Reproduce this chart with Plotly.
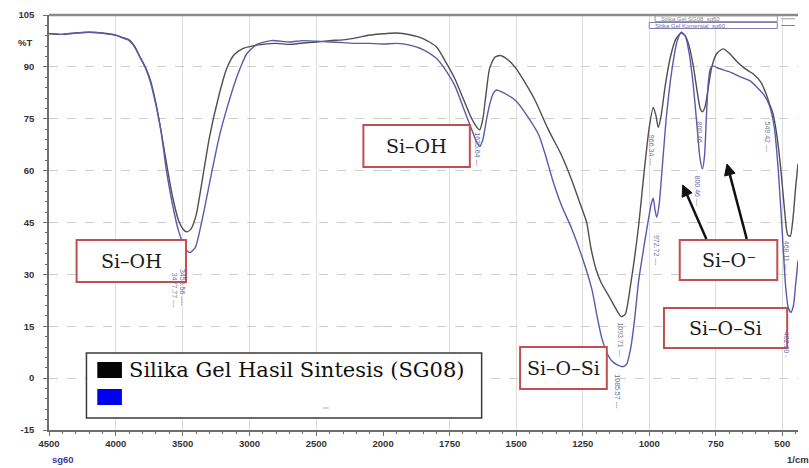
import math
import plotly.graph_objects as go

# ---------------- data ----------------
sg08_wn = [4500, 4400, 4300, 4200, 4100, 4000, 3950, 3900, 3860, 3820, 3780, 3740, 3700, 3680, 3640,
           3600, 3570, 3530, 3495, 3470, 3440, 3400, 3350, 3300, 3230, 3170, 3115, 3050, 2980, 2900,
           2800, 2700, 2600, 2500, 2400, 2300, 2200, 2100, 2000, 1950, 1900, 1850, 1800, 1760, 1730,
           1700, 1670, 1650, 1637, 1625, 1612, 1600, 1580, 1560, 1530, 1500, 1475, 1430, 1380, 1330,
           1290, 1260, 1235, 1220, 1200, 1180, 1150, 1125, 1105, 1090, 1070, 1040, 1020, 1000, 985,
           975, 966, 955, 940, 920, 900, 880, 865, 850, 835, 820, 808, 800, 790, 778, 765, 745, 722,
           700, 670, 640, 610, 580, 560, 549, 535, 520, 505, 492, 480, 470, 460, 450, 441]
sg08_t = [99.6, 99.4, 99.8, 100.0, 99.8, 99.2, 98.5, 97.8, 96.0, 93.0, 90.0, 86.0, 79.5, 75.5, 66.5,
          57.5, 51.5, 45.5, 43.0, 42.3, 43.0, 47.0, 58.0, 69.5, 81.5, 89.5, 93.5, 95.3, 96.0, 96.5,
          96.8, 96.5, 96.9, 97.2, 97.6, 97.8, 98.4, 99.2, 99.6, 99.8, 99.3, 98.2, 95.8, 90.8, 86.5,
          81.0, 75.5, 72.8, 71.8, 75.0, 83.0, 89.5, 92.8, 93.3, 92.0, 89.5, 86.5, 80.5, 72.0, 64.5,
          57.0, 50.5, 45.0, 38.0, 31.5, 27.5, 23.5, 20.0, 17.8, 18.5, 27.0, 44.0, 59.0, 72.5, 78.3,
          76.0, 72.5, 76.0, 84.5, 93.0, 98.0, 99.8, 99.0, 96.0, 90.5, 83.0, 77.8, 77.0, 78.5, 84.0,
          90.0, 94.0, 95.2, 94.0, 91.5, 89.5, 88.0, 85.5, 82.0, 79.5, 76.5, 70.0, 60.0, 49.0, 41.5,
          41.0, 46.0, 55.0, 62.0]

ref_wn = [4500, 4400, 4300, 4200, 4100, 4000, 3950, 3900, 3860, 3820, 3780, 3740, 3700, 3660, 3625,
          3580, 3530, 3480, 3445, 3405, 3350, 3280, 3225, 3165, 3100, 3055, 3020, 2945, 2835, 2700,
          2600, 2500, 2400, 2300, 2200, 2100, 2000, 1950, 1900, 1850, 1800, 1760, 1730, 1700, 1670,
          1650, 1637, 1625, 1612, 1600, 1585, 1574, 1550, 1504, 1460, 1415, 1390, 1363, 1330, 1290,
          1250, 1215, 1195, 1178, 1160, 1141, 1120, 1100, 1085, 1070, 1055, 1040, 1020, 1005, 992,
          985, 978, 972, 963, 950, 935, 915, 895, 880, 865, 850, 835, 820, 810, 800, 792, 785, 778,
          770, 760, 740, 700, 660, 622, 600, 570, 549, 530, 515, 500, 488, 478, 468, 458, 450, 441]
ref_t = [99.7, 99.4, 99.8, 100.0, 99.7, 99.1, 98.4, 97.6, 95.8, 92.8, 89.8, 85.5, 79.0, 71.0, 61.0,
         51.0, 42.5, 37.5, 36.3, 37.8, 46.5, 60.0, 70.0, 78.5, 86.5, 91.0, 93.8, 96.5, 97.6, 97.2,
         97.6, 97.4, 97.2, 97.0, 96.8, 96.8, 96.6, 96.8, 96.3, 95.0, 92.5, 88.5, 84.5, 78.5, 72.5,
         68.5, 67.0, 69.0, 74.5, 79.0, 82.5, 83.3, 82.6, 80.4, 76.0, 70.3, 64.5, 57.3, 50.0, 43.0,
         34.5, 25.5, 17.5, 11.5, 7.5, 5.0, 3.8, 3.3, 4.0, 8.5, 17.0, 28.0, 38.0, 45.0, 50.5,
         52.0, 48.5, 46.5, 50.0, 62.0, 76.0, 89.0, 97.5, 100.0, 99.0, 94.0, 85.0, 72.5, 64.0, 60.5,
         64.5, 76.0, 85.5, 89.5, 90.3, 89.6, 88.6, 87.2, 86.0, 84.5, 82.0, 79.0, 72.5, 60.0, 42.0,
         27.0, 20.5, 19.0, 21.0, 27.0, 34.0]

x_hi_ticks = [4500, 4000, 3500, 3000, 2500, 2000]
x_lo_ticks = [1750, 1500, 1250, 1000, 750, 500]
y_ticks = [-15, 0, 15, 30, 45, 60, 75, 90, 105]

peak_labels = [("3477.77 ---", 177, 290, "#7a7a8a"), ("3456.56 ----", 185, 287, "#6a6aa8"),
               ("1635.64 ---", 484, 150, "#6a6aa8"), ("1093.71 ---", 629, 340, "#7a7a8a"),
               ("1085.57 ---", 626, 392, "#6a6aa8"), ("966.34 ---", 661, 150, "#7a7a8a"),
               ("972.72 ---", 665, 250, "#6a6aa8"), ("800.46 ---", 710, 137, "#7a7a8a"),
               ("800.46 ---", 708, 191, "#6a6aa8"), ("549.42 ---", 779, 137, "#7a7a8a"),
               ("468.11 ---", 797, 256, "#7a7a8a"), ("462.20 -", 798, 345, "#6a6aa8")]

# ---------------- geometry ----------------
W, H = 809, 468
L, R, T, B = 49, 0, 15, 38
PW, PH = W - L - R, H - T - B
BREAK = 2000
def px(x):
    return (x - L) / PW
def py(y):
    return (H - B - y) / PH
D = px(388)

BLACK = "#4f4f4f"
BLUE = "#5a5aaa"

fig = go.Figure()

def split(wn, t, hi):
    out_w, out_t = [], []
    for i, (w, v) in enumerate(zip(wn, t)):
        if hi:
            keep = w >= BREAK or (i > 0 and wn[i - 1] >= BREAK)
        else:
            keep = w <= BREAK or (i + 1 < len(wn) and wn[i + 1] <= BREAK)
        if keep:
            out_w.append(w)
            out_t.append(v)
    return out_w, out_t

for wn, t, col in [(sg08_wn, sg08_t, BLACK), (ref_wn, ref_t, BLUE)]:
    for hi, xa in [(True, "x"), (False, "x2")]:
        w, v = split(wn, t, hi)
        fig.add_trace(go.Scatter(x=w, y=v, mode="lines", xaxis=xa, yaxis="y",
                                 line=dict(color=col, width=1.4, shape="spline", smoothing=0.6),
                                 showlegend=False, hoverinfo="skip"))

tickfont = dict(family="Liberation Sans", size=9.5, color="#333333", weight="bold")
axcol = "#6e6e6e"
common_x = dict(showline=True, linecolor=axcol, linewidth=1.5, ticks="outside", ticklen=4,
                tickcolor=axcol, showgrid=True, gridcolor="#dedede", gridwidth=1, zeroline=False,
                tickfont=tickfont, anchor="y", fixedrange=True)

fig.update_layout(
    width=W, height=H, margin=dict(l=L, r=R, t=T, b=B),
    paper_bgcolor="white", plot_bgcolor="white", showlegend=False,
    xaxis=dict(domain=[0, D], range=[4500, 2000], tickmode="array", tickvals=x_hi_ticks,
               ticktext=[str(v) for v in x_hi_ticks],
               minor=dict(dtick=100, ticklen=2.5, ticks="outside", tickcolor=axcol, showgrid=False),
               **common_x),
    xaxis2=dict(domain=[D, 1], range=[2000, 441], tickmode="array", tickvals=x_lo_ticks,
                ticktext=[str(v) for v in x_lo_ticks],
                minor=dict(dtick=50, ticklen=2.5, ticks="outside", tickcolor=axcol, showgrid=False),
                **common_x),
    yaxis=dict(range=[-15, 105], tickmode="array", tickvals=y_ticks,
               ticktext=[str(v) for v in y_ticks], showline=True, linecolor=axcol, linewidth=1.5,
               ticks="outside", ticklen=4, tickcolor=axcol, showgrid=True, gridcolor="#cdcdcd",
               griddash="dash", gridwidth=1, zeroline=False, tickfont=tickfont, anchor="x",
               ticklabelstandoff=7,
               minor=dict(dtick=3, ticklen=2.5, ticks="outside", tickcolor=axcol, showgrid=False),
               fixedrange=True),
)

shapes = []
annotations = []

# top border
shapes.append(dict(type="line", xref="paper", yref="paper", x0=0, x1=1, y0=1, y1=1,
                   line=dict(color="#8a8a8a", width=2.5)))

# small file-label boxes at top right
shapes.append(dict(type="rect", xref="paper", yref="paper", x0=px(664), x1=px(788), y0=py(21.5), y1=py(16),
                   line=dict(color="#9a9a9a", width=1), fillcolor="white"))
shapes.append(dict(type="rect", xref="paper", yref="paper", x0=px(658), x1=px(788), y0=py(28.5), y1=py(22.5),
                   line=dict(color="#8080b0", width=1), fillcolor="white"))
for yy, cc in [(18.8, "#9a9a9a"), (25.5, "#8080b0")]:
    shapes.append(dict(type="line", xref="paper", yref="paper", x0=px(792), x1=px(806), y0=py(yy), y1=py(yy),
                       line=dict(color=cc, width=1)))
annotations.append(dict(text="Silika Gel SG08  sg60", x=px(668), y=py(18.8), xref="paper",
                        yref="paper", xanchor="left", yanchor="middle", showarrow=False,
                        font=dict(family="Liberation Sans", size=6, color="#888888")))
annotations.append(dict(text="Silika Gel Komersial  sg60", x=px(662), y=py(25.5), xref="paper",
                        yref="paper", xanchor="left", yanchor="middle", showarrow=False,
                        font=dict(family="Liberation Sans", size=6, color="#7070a0")))

# label boxes
boxes = [("Si–OH", 77, 240, 188, 282), ("Si–OH", 368, 125, 476, 167), ("Si–O–Si", 527, 347, 615, 389),
         ("Si–O⁻", 689, 240, 788, 280), ("Si–O–Si", 673, 308, 798, 348)]
for txt, x0, y0, x1, y1 in boxes:
    shapes.append(dict(type="rect", xref="paper", yref="paper", x0=px(x0), x1=px(x1), y0=py(y1), y1=py(y0),
                       line=dict(color="#c0504d", width=2), fillcolor="white", layer="above"))
    annotations.append(dict(text=txt, x=px((x0 + x1) / 2), y=py((y0 + y1) / 2), xref="paper", yref="paper",
                            xanchor="center", yanchor="middle", showarrow=False,
                            font=dict(family="DejaVu Serif", size=19, color="#1a1a1a")))

# arrows (line + triangular head), drawn as shapes
for hx, hy, tx, ty in [(692, 185, 716, 239), (737, 164, 757, 239)]:
    dx, dy = hx - tx, hy - ty
    n = math.hypot(dx, dy)
    ux, uy = dx / n, dy / n
    hl, hw = 11, 5.5
    bx, by = hx - ux * hl, hy - uy * hl
    shapes.append(dict(type="line", xref="paper", yref="paper", x0=px(tx), y0=py(ty), x1=px(bx), y1=py(by),
                       line=dict(color="#111111", width=2.5), layer="above"))
    p1 = (bx - uy * hw, by + ux * hw)
    p2 = (bx + uy * hw, by - ux * hw)
    path = "M {:.5f},{:.5f} L {:.5f},{:.5f} L {:.5f},{:.5f} Z".format(
        px(hx), py(hy), px(p1[0]), py(p1[1]), px(p2[0]), py(p2[1]))
    shapes.append(dict(type="path", xref="paper", yref="paper", path=path, fillcolor="#111111",
                       line=dict(color="#111111", width=1), layer="above"))

# legend box
shapes.append(dict(type="rect", xref="paper", yref="paper", x0=px(87), x1=px(488), y0=py(418), y1=py(353),
                   line=dict(color="#3a3a3a", width=1.5), fillcolor="white", layer="above"))
shapes.append(dict(type="rect", xref="paper", yref="paper", x0=px(98), x1=px(123), y0=py(378), y1=py(362),
                   line=dict(width=0), fillcolor="#050505", layer="above"))
shapes.append(dict(type="rect", xref="paper", yref="paper", x0=px(98), x1=px(123), y0=py(405), y1=py(389),
                   line=dict(width=0), fillcolor="#0000ee", layer="above"))
annotations.append(dict(text="Silika Gel Hasil Sintesis (SG08)", x=px(128), y=py(370), xref="paper",
                        yref="paper", xanchor="left", yanchor="middle", showarrow=False,
                        font=dict(family="DejaVu Serif", size=21, color="#111111")))
shapes.append(dict(type="line", xref="paper", yref="paper", x0=px(327), x1=px(333), y0=py(408), y1=py(408),
                   line=dict(color="#b0b0b0", width=1), layer="above"))

# peak labels
for txt, x, y, col in peak_labels:
    annotations.append(dict(text=txt, x=px(x), y=py(y), xref="paper", yref="paper", showarrow=False,
                            textangle=90, xanchor="center", yanchor="middle",
                            font=dict(family="Liberation Sans", size=7, color=col)))

# axis captions
annotations.append(dict(text="%T", x=px(34), y=py(42), xref="paper", yref="paper", xanchor="right",
                        yanchor="middle", showarrow=False,
                        font=dict(family="Liberation Sans", size=9.5, color="#333333", weight="bold")))
annotations.append(dict(text="sg60", x=px(50), y=py(459), xref="paper", yref="paper", xanchor="left",
                        yanchor="middle", showarrow=False,
                        font=dict(family="Liberation Sans", size=9.5, color="#3a3aa0", weight="bold")))
annotations.append(dict(text="1/cm", x=px(796), y=py(459), xref="paper", yref="paper", xanchor="left",
                        yanchor="middle", showarrow=False,
                        font=dict(family="Liberation Sans", size=9.5, color="#333333", weight="bold")))

fig.update_layout(shapes=shapes, annotations=annotations)
fig.write_html("out.html")
